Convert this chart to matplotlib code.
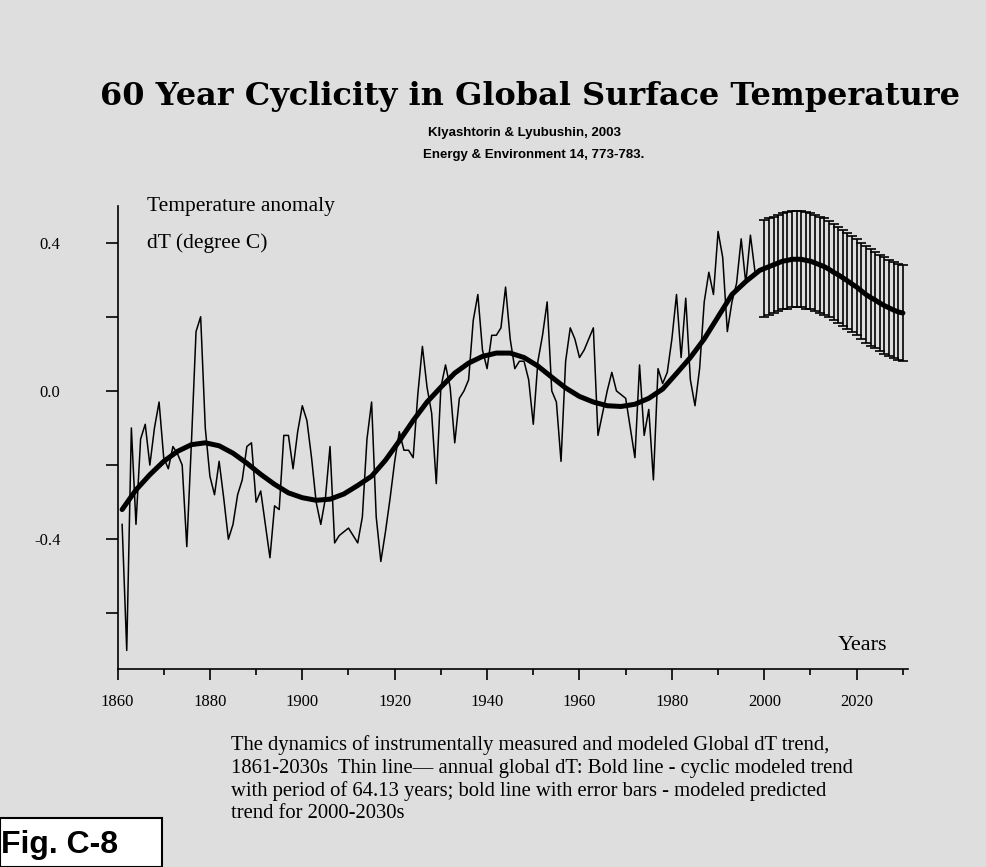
import numpy as np
import matplotlib
matplotlib.use("Agg")
import matplotlib.pyplot as plt
from matplotlib.patches import Rectangle
from matplotlib.ticker import MultipleLocator, FixedLocator

# annual global dT (thin line)
obs_years = list(range(1861, 1999))
obs_dT = [
    -0.36, -0.70, -0.10, -0.36, -0.13, -0.09, -0.20, -0.10, -0.03, -0.18,   # 1861-1870
    -0.21, -0.15, -0.17, -0.20, -0.42, -0.14, 0.16, 0.20, -0.10, -0.23,     # 1871-1880
    -0.28, -0.19, -0.29, -0.40, -0.36, -0.28, -0.24, -0.15, -0.14, -0.30,   # 1881-1890
    -0.27, -0.36, -0.45, -0.31, -0.32, -0.12, -0.12, -0.21, -0.11, -0.04,   # 1891-1900
    -0.08, -0.18, -0.30, -0.36, -0.29, -0.15, -0.41, -0.39, -0.38, -0.37,   # 1901-1910
    -0.39, -0.41, -0.34, -0.13, -0.03, -0.34, -0.46, -0.38, -0.29, -0.19,   # 1911-1920
    -0.11, -0.16, -0.16, -0.18, -0.01, 0.12, 0.01, -0.06, -0.25, 0.01,      # 1921-1930
    0.07, 0.01, -0.14, -0.02, 0.00, 0.03, 0.19, 0.26, 0.11, 0.06,           # 1931-1940
    0.15, 0.15, 0.17, 0.28, 0.14, 0.06, 0.08, 0.08, 0.03, -0.09,            # 1941-1950
    0.08, 0.15, 0.24, 0.00, -0.03, -0.19, 0.08, 0.17, 0.14, 0.09,           # 1951-1960
    0.11, 0.14, 0.17, -0.12, -0.06, 0.00, 0.05, 0.00, -0.01, -0.02,         # 1961-1970
    -0.10, -0.18, 0.07, -0.12, -0.05, -0.24, 0.06, 0.02, 0.05, 0.14,        # 1971-1980
    0.26, 0.09, 0.25, 0.03, -0.04, 0.06, 0.24, 0.32, 0.26, 0.43,            # 1981-1990
    0.36, 0.16, 0.24, 0.29, 0.41, 0.29, 0.42, 0.32,                         # 1991-1998
]

# cyclic modeled trend (bold line), read every 3 years
model_years = list(range(1861, 2000, 3))
model_dT = [
    -0.32, -0.267, -0.226, -0.19, -0.163, -0.145, -0.14, -0.148, -0.168, -0.195,
    -0.225, -0.252, -0.275, -0.288, -0.295, -0.292, -0.278, -0.255, -0.23, -0.187,
    -0.135, -0.08, -0.03, 0.01, 0.048, 0.075, 0.093, 0.102, 0.102, 0.09,
    0.067, 0.037, 0.008, -0.015, -0.03, -0.04, -0.042, -0.036, -0.02, 0.005,
    0.047, 0.09, 0.14, 0.2, 0.26, 0.295, 0.325,
]

# predicted trend 2000-2030 with error bars
pred_years = list(range(2000, 2031))
pred_dT = [
    0.33, 0.335, 0.34, 0.345, 0.35, 0.352, 0.355, 0.355, 0.355, 0.352,
    0.35, 0.345, 0.34, 0.335, 0.328, 0.32, 0.313, 0.305, 0.297, 0.288,
    0.28, 0.27, 0.26, 0.252, 0.245, 0.237, 0.23, 0.224, 0.218, 0.213, 0.21,
]
pred_err = 0.13

x_major = [1860, 1880, 1900, 1920, 1940, 1960, 1980, 2000, 2020]
y_ticks = [-0.6, -0.4, -0.2, 0.0, 0.2, 0.4]
y_labels = ["", "-0.4", "", "0.0", "", "0.4"]

caption = [
    "The dynamics of instrumentally measured and modeled Global dT trend,",
    "1861-2030s  Thin line\u2014 annual global dT: Bold line - cyclic modeled trend",
    "with period of 64.13 years; bold line with error bars - modeled predicted",
    "trend for 2000-2030s",
]

BG = "#dedede"
W, H = 986, 867
SERIF = ["Liberation Serif", "DejaVu Serif"]


def fx(px):
    return px / W


def fy(py):
    return 1 - py / H


fig = plt.figure(figsize=(W / 100, H / 100), dpi=100, facecolor=BG)
ax = fig.add_axes([fx(117.5), fy(669), (907.5 - 117.5) / W, (669 - 205.5) / H])
ax.set_facecolor(BG)

ax.plot(obs_years, obs_dT, color="black", lw=1.1)
ax.errorbar(pred_years, pred_dT, yerr=pred_err, fmt="none", ecolor="black",
            elinewidth=1.2, capsize=3.4, capthick=1.2)
ax.plot(model_years + pred_years, model_dT + pred_dT, color="black", lw=3.6,
        solid_joinstyle="round", solid_capstyle="round")

ax.set_xlim(1860, 2031)
ax.set_ylim(-0.75, 0.5)
for s in ["top", "right"]:
    ax.spines[s].set_visible(False)
for s in ["left", "bottom"]:
    ax.spines[s].set_linewidth(1.2)

ax.xaxis.set_major_locator(FixedLocator(x_major))
ax.xaxis.set_minor_locator(MultipleLocator(10))
ax.set_xticklabels([str(y) for y in x_major])
ax.set_yticks(y_ticks)
ax.set_yticklabels(y_labels)
ax.tick_params(axis="x", which="major", direction="out", length=8, width=1.2, pad=10)
ax.tick_params(axis="x", which="minor", direction="out", length=4, width=1.2)
ax.tick_params(axis="y", direction="out", length=9, width=1.2, pad=32)
for lab in ax.get_xticklabels() + ax.get_yticklabels():
    lab.set_family(SERIF)
    lab.set_fontsize(12)

fig.text(fx(530), fy(96), "60 Year Cyclicity in Global Surface Temperature",
         ha="center", va="center", fontsize=23, fontweight="bold", family="DejaVu Serif")
fig.text(fx(524), fy(133), "Klyashtorin & Lyubushin, 2003", ha="center", va="center",
         fontsize=9.5, fontweight="bold", family="Liberation Sans")
fig.text(fx(534), fy(155), "Energy & Environment 14, 773-783.", ha="center", va="center",
         fontsize=9.5, fontweight="bold", family="Liberation Sans")

fig.text(fx(147), fy(206), "Temperature anomaly", ha="left", va="center",
         fontsize=15.5, family=SERIF)
fig.text(fx(147), fy(243), "dT (degree C)", ha="left", va="center",
         fontsize=15.5, family=SERIF)
fig.text(fx(863), fy(645), "Years", ha="center", va="center", fontsize=16, family=SERIF)

for i, line in enumerate(caption):
    fig.text(fx(231), fy(745 + 23 * i), line, ha="left", va="center",
             fontsize=14.9, family=SERIF)

box = Rectangle((0, 0), fx(162), fy(818), transform=fig.transFigure,
                facecolor="white", edgecolor="black", lw=1.5, clip_on=False)
fig.patches.append(box)
fig.text(fx(1), fy(845), "Fig. C-8", ha="left", va="center", fontsize=23,
         fontweight="bold", family="Liberation Sans")

fig.savefig("out.png", dpi=100, facecolor=BG)
